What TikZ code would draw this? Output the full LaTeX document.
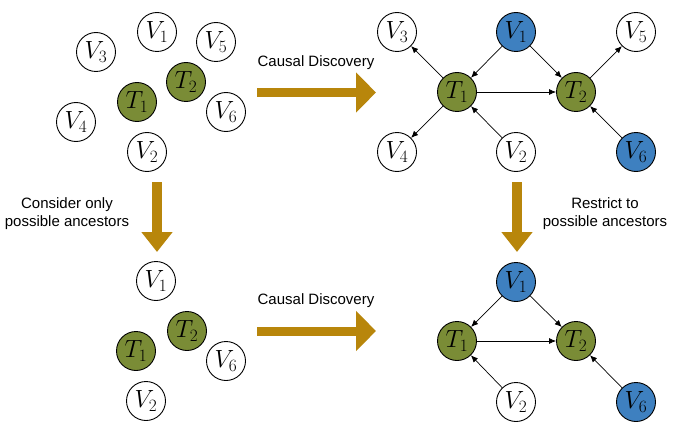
\documentclass[tikz,border=0pt]{standalone}
\usepackage{amsmath,amssymb}
\usepackage{fontspec}
\newfontfamily\labelfont{Liberation Sans}
\usetikzlibrary{arrows.meta}
\definecolor{tgreen}{RGB}{122,140,54}
\definecolor{vblue}{RGB}{62,128,192}
\definecolor{gold}{RGB}{184,134,11}

\begin{document}
\begin{tikzpicture}[x=1pt, y=-1pt,
	var/.style={circle, draw, line width=0.9pt, fill=white, minimum size=39pt, inner sep=0pt, font=\fontsize{23}{23}\selectfont},
	treat/.style={var, fill=tgreen},
	anc/.style={var, fill=vblue},
	lbl/.style={font=\labelfont\fontsize{15}{18}\selectfont, align=center},
	edge/.style={-{Latex[length=7pt,width=6pt]}, line width=0.7pt},
	bigh/.style={gold, line width=9pt, -{Triangle[length=20pt,width=39pt]}},
	bigv/.style={gold, line width=10pt, -{Triangle[length=20pt,width=30pt]}}]
	\useasboundingbox (0,0) rectangle (674,433);
	% all variables, no edges yet
	\node[var] (aV1) at (157,32) {$V_1$};
	\node[var] (aV5) at (216,42) {$V_5$};
	\node[var] (aV3) at (96,52) {$V_3$};
	\node[treat] (aT2) at (186,82) {$T_2$};
	\node[treat] (aT1) at (137,102) {$T_1$};
	\node[var] (aV6) at (226,112) {$V_6$};
	\node[var] (aV4) at (76,122) {$V_4$};
	\node[var] (aV2) at (147,152) {$V_2$};
	% full causal graph
	\node[var] (bV3) at (397,32) {$V_3$};
	\node[anc] (bV1) at (516,32) {$V_1$};
	\node[var] (bV5) at (636,32) {$V_5$};
	\node[treat] (bT1) at (457,92) {$T_1$};
	\node[treat] (bT2) at (576,92) {$T_2$};
	\node[var] (bV4) at (397,152) {$V_4$};
	\node[var] (bV2) at (516,152) {$V_2$};
	\node[anc] (bV6) at (636,152) {$V_6$};
	\draw[edge] (bT1) -- (bV3);
	\draw[edge] (bT1) -- (bV4);
	\draw[edge] (bV1) -- (bT1);
	\draw[edge] (bV1) -- (bT2);
	\draw[edge] (bT1) -- (bT2);
	\draw[edge] (bV2) -- (bT1);
	\draw[edge] (bT2) -- (bV5);
	\draw[edge] (bV6) -- (bT2);
	% possible ancestors only
	\node[var] (cV1) at (156,281) {$V_1$};
	\node[treat] (cT2) at (187,331) {$T_2$};
	\node[treat] (cT1) at (136,351) {$T_1$};
	\node[var] (cV6) at (226,361) {$V_6$};
	\node[var] (cV2) at (146,401) {$V_2$};
	% restricted graph
	\node[anc] (dV1) at (516,282) {$V_1$};
	\node[treat] (dT1) at (457,341) {$T_1$};
	\node[treat] (dT2) at (576,341) {$T_2$};
	\node[var] (dV2) at (516,402) {$V_2$};
	\node[anc] (dV6) at (636,402) {$V_6$};
	\draw[edge] (dV1) -- (dT1);
	\draw[edge] (dV1) -- (dT2);
	\draw[edge] (dT1) -- (dT2);
	\draw[edge] (dV2) -- (dT1);
	\draw[edge] (dV6) -- (dT2);
	% big arrows
	\coordinate (h1s) at (257,92.5);
	\coordinate (h1e) at (376,92.5);
	\coordinate (h2s) at (257,331);
	\coordinate (h2e) at (376,331);
	\coordinate (v1s) at (157,182);
	\coordinate (v1e) at (157,252);
	\coordinate (v2s) at (517,182);
	\coordinate (v2e) at (517,252);
	\draw[bigh] (h1s) -- (h1e);
	\draw[bigh] (h2s) -- (h2e);
	\draw[bigv] (v1s) -- (v1e);
	\draw[bigv] (v2s) -- (v2e);
	\node[lbl] (disc1) at (316,63) {Causal Discovery};
	\node[lbl] (disc2) at (316,301) {Causal Discovery};
	\node[lbl] (cons) at (67,214) {Consider only\\possible ancestors};
	\node[lbl] (restr) at (605,214) {Restrict to\\possible ancestors};
\end{tikzpicture}
\end{document}
